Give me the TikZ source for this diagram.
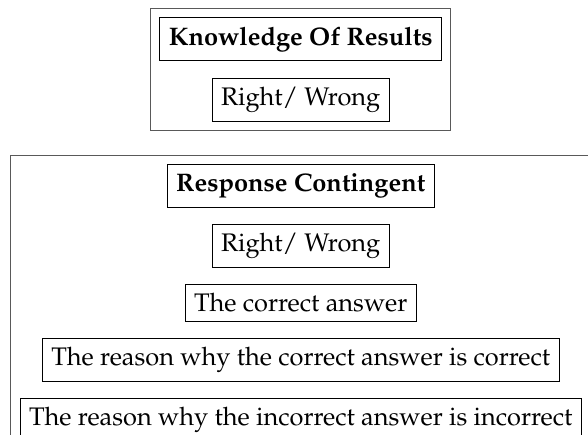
\documentclass[tikz,border=0pt]{standalone}
\usepackage[T1]{fontenc}
\usepackage{mathpazo}
\usetikzlibrary{positioning,fit}

\begin{document}
\begin{tikzpicture}[node distance=6.3pt,int/.style={draw, inner sep=3.5pt},outer/.style={draw=black!65, inner sep=3.5pt},]
    \useasboundingbox (0,0) rectangle (231.5pt,-170.9pt);
    % knowledge of results
    \node [int] (KOR) at (118.4pt,-15.4pt)           {\textbf{Knowledge Of Results}};
    \node [int, below=6.6pt of KOR] (RW1)             {Right/ Wrong};
    \node [outer, fit=(KOR) (RW1)] (KORbox)           {};
    
    % response contingent
    \node [int, below=13pt of KORbox] (RC)            {\textbf{Response Contingent}};
    \node [int, below=of RC] (RW2)                    {Right/ Wrong};
    \node [int, below=of RW2] (CA)                    {The correct answer};
    \node [int, below=of CA] (RCR)                    {The reason why the correct answer is correct};
    \node [int, below=of RCR] (RIR)                   {The reason why the incorrect answer is incorrect};
    \node [outer, fit=(RC) (RIR)] (RCbox)             {};
\end{tikzpicture}
\end{document}
